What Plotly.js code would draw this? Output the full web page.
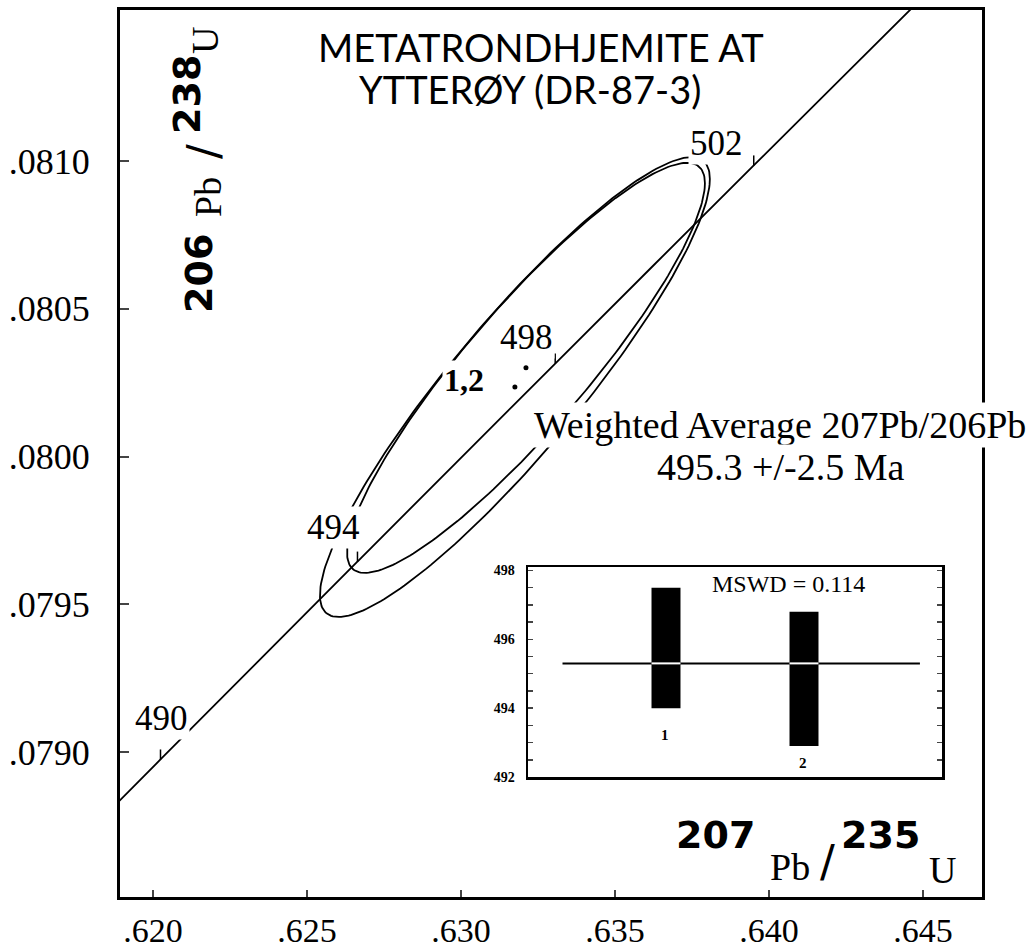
<!DOCTYPE html>
<html><head><meta charset="utf-8">
<script src="https://cdn.plot.ly/plotly-3.0.1.min.js"></script>
<style>html,body{margin:0;padding:0;background:#fff;}#plot{width:1036px;height:952px;}</style>
</head><body><div id="plot"></div>
<script>
// Concordia curve: age (Ma), 207Pb/235U, 206Pb/238U
const concordiaAge = [488, 490, 492, 494, 496, 498, 500, 502, 504, 506, 508];
const concordia207_235 = [0.617055, 0.620244, 0.623438, 0.626639, 0.629846, 0.633059, 0.636279, 0.639505, 0.642738, 0.645977, 0.649222];
const concordia206_238 = [0.0786399, 0.0789747, 0.0793095, 0.0796444, 0.0799794, 0.0803145, 0.0806497, 0.0809850, 0.0813204, 0.0816560, 0.0819916];
const labelledAges = [490, 494, 498, 502];

// Zircon fractions 1 and 2: ratio, error half-widths, error correlation
const fractionNames = ['1', '2'];
const ratio207_235 = [0.63175, 0.63211];
const ratio206_238 = [0.080235, 0.080300];
const err207_235 = [0.00633, 0.00581];
const err206_238 = [0.000778, 0.000694];
const errCorr = [0.905, 0.90];

// Inset: 207Pb/206Pb ages with error bars
const insetX = [1, 2];
const ageLow = [494.0, 492.9];
const ageHigh = [497.5, 496.8];
const weightedMean = 495.3;
const meanSpan = [0.25, 2.84];

const xTickVals = [0.620, 0.625, 0.630, 0.635, 0.640, 0.645];
const xTickText = ['.620', '.625', '.630', '.635', '.640', '.645'];
const yTickVals = [0.0790, 0.0795, 0.0800, 0.0805, 0.0810];
const yTickText = ['.0790', '.0795', '.0800', '.0805', '.0810'];
const insetTickVals = [492, 492.5, 493, 493.5, 494, 494.5, 495, 495.5, 496, 496.5, 497, 497.5, 498];
const insetTickText = ['492', '', '', '', '494', '', '', '', '496', '', '', '', '498'];

// ---- geometry helpers ----
const L = 120, R = 982, T = 10, B = 897;
function px(x) { return (x - L) / (R - L); }
function py(y) { return (B - y) / (B - T); }

function ellipse(i) {
  const xs = [], ys = [], n = 240, s = Math.sqrt(1 - errCorr[i] * errCorr[i]);
  for (let k = 0; k <= n; k++) {
    const t = 2 * Math.PI * k / n;
    xs.push(ratio207_235[i] + err207_235[i] * Math.cos(t));
    ys.push(ratio206_238[i] + err206_238[i] * (errCorr[i] * Math.cos(t) + s * Math.sin(t)));
  }
  return {xs, ys};
}

const traces = [];
traces.push({x: concordia207_235, y: concordia206_238, mode: 'lines', line: {color: '#000', width: 1.8, shape: 'spline'}, hoverinfo: 'skip'});
fractionNames.forEach((n, i) => {
  const e = ellipse(i);
  traces.push({x: e.xs, y: e.ys, mode: 'lines', line: {color: '#000', width: 1.8}, hoverinfo: 'skip'});
});
traces.push({x: ratio207_235, y: ratio206_238, mode: 'markers', marker: {color: '#000', size: 5}, hoverinfo: 'skip'});

// inset
const barW = 0.21;
traces.push({type: 'bar', x: insetX, y: ageHigh.map((h, i) => h - ageLow[i]), base: ageLow, width: barW,
  marker: {color: '#000', line: {width: 0}}, xaxis: 'x2', yaxis: 'y2', hoverinfo: 'skip'});
traces.push({x: meanSpan, y: [weightedMean, weightedMean], mode: 'lines', line: {color: '#000', width: 2},
  xaxis: 'x2', yaxis: 'y2', hoverinfo: 'skip'});
const wx = [], wy = [];
insetX.forEach(v => { wx.push(v - barW / 2, v + barW / 2, null); wy.push(weightedMean, weightedMean, null); });
traces.push({x: wx, y: wy, mode: 'lines', line: {color: '#fff', width: 2}, xaxis: 'x2', yaxis: 'y2', hoverinfo: 'skip'});

// concordia age ticks
const shapes = labelledAges.map(a => {
  const i = concordiaAge.indexOf(a);
  return {type: 'line', xref: 'x', yref: 'y', ysizemode: 'pixel', yanchor: concordia206_238[i],
    x0: concordia207_235[i], x1: concordia207_235[i], y0: 0, y1: 10, line: {color: '#000', width: 1.5}};
});

const serif = 'Liberation Serif, Times New Roman, serif';
const sans = 'Lato, sans-serif';
const bold = 'DejaVu Sans, sans-serif';
function ann(text, x, y, font, extra) {
  return Object.assign({text, x: px(x), y: py(y), xref: 'paper', yref: 'paper', showarrow: false,
    xanchor: 'center', yanchor: 'middle', font: Object.assign({color: '#000'}, font)}, extra || {});
}
const wbg = {bgcolor: '#fff', borderpad: 1};
const ageLabelPos = {490: [161, 718], 494: [333, 527], 498: [526, 337], 502: [716, 143]};

const annotations = [
  ann('METATRONDHJEMITE AT', 541, 47, {family: sans, size: 38}),
  ann('YTTERØY (DR-87-3)', 530, 89, {family: sans, size: 38}),
  ann('1,2', 464, 380, {family: serif, size: 32, weight: 'bold'}, wbg),
  ann('Weighted Average 207Pb/206Pb', 780, 425, {family: serif, size: 38}, wbg),
  ann('495.3 +/-2.5 Ma', 780, 467, {family: serif, size: 38}, wbg),
  ann('MSWD = 0.114', 788, 584, {family: serif, size: 24}),
  ann(fractionNames[0], 665, 735, {family: serif, size: 15, weight: 'bold'}),
  ann(fractionNames[1], 803, 763, {family: serif, size: 15, weight: 'bold'}),
  // x axis title
  ann('207', 715, 835, {family: bold, size: 38, weight: 'bold'}),
  ann('Pb', 790, 867, {family: serif, size: 38}),
  ann('/', 827, 861, {family: bold, size: 44}),
  ann('235', 880, 835, {family: bold, size: 38, weight: 'bold'}),
  ann('U', 942, 870, {family: serif, size: 38}),
  // y axis title (rotated)
  ann('206', 199, 274, {family: bold, size: 38, weight: 'bold'}, {textangle: -90}),
  ann('Pb', 208, 197, {family: serif, size: 38}, {textangle: -90}),
  ann('/', 204, 152, {family: bold, size: 44}, {textangle: -90}),
  ann('238', 187, 95, {family: bold, size: 38, weight: 'bold'}, {textangle: -90}),
  ann('U', 205, 41, {family: serif, size: 38}, {textangle: -90})
];
labelledAges.forEach(a => {
  const p = ageLabelPos[a];
  annotations.push(ann(String(a), p[0], p[1], {family: serif, size: 35}, wbg));
});

const layout = {
  width: 1036, height: 952, showlegend: false,
  paper_bgcolor: '#fff', plot_bgcolor: '#fff',
  margin: {l: L, r: 1036 - R, t: T, b: 952 - B},
  xaxis: {range: [0.618929, 0.646916], tickvals: xTickVals, ticktext: xTickText, ticks: 'inside', ticklen: 7, tickwidth: 2,
    showline: true, linewidth: 3, linecolor: '#000', mirror: true, showgrid: false, zeroline: false,
    tickfont: {family: serif, size: 34, color: '#000'}, ticklabelstandoff: 1},
  yaxis: {range: [0.0785093, 0.081511], tickvals: yTickVals, ticktext: yTickText, ticks: 'inside', ticklen: 9, tickwidth: 2,
    showline: true, linewidth: 3, linecolor: '#000', mirror: true, showgrid: false, zeroline: false,
    tickfont: {family: serif, size: 36, color: '#000'}, ticklabelstandoff: 20},
  xaxis2: {domain: [px(528), px(942)], anchor: 'y2', range: [0, 3], showticklabels: false, ticks: '',
    showline: true, linewidth: 2.5, linecolor: '#000', mirror: true, showgrid: false, zeroline: false},
  yaxis2: {domain: [py(777), py(567)], anchor: 'x2', range: [492, 498.1], tickvals: insetTickVals, ticktext: insetTickText,
    ticks: 'inside', ticklen: 5, tickwidth: 1.5, showline: true, linewidth: 2.5, linecolor: '#000', mirror: 'ticks',
    showgrid: false, zeroline: false, tickfont: {family: serif, size: 14, color: '#000', weight: 'bold'}, ticklabelstandoff: 8},
  shapes, annotations
};
Plotly.newPlot('plot', traces, layout, {displayModeBar: false, staticPlot: true});
</script></body></html>
